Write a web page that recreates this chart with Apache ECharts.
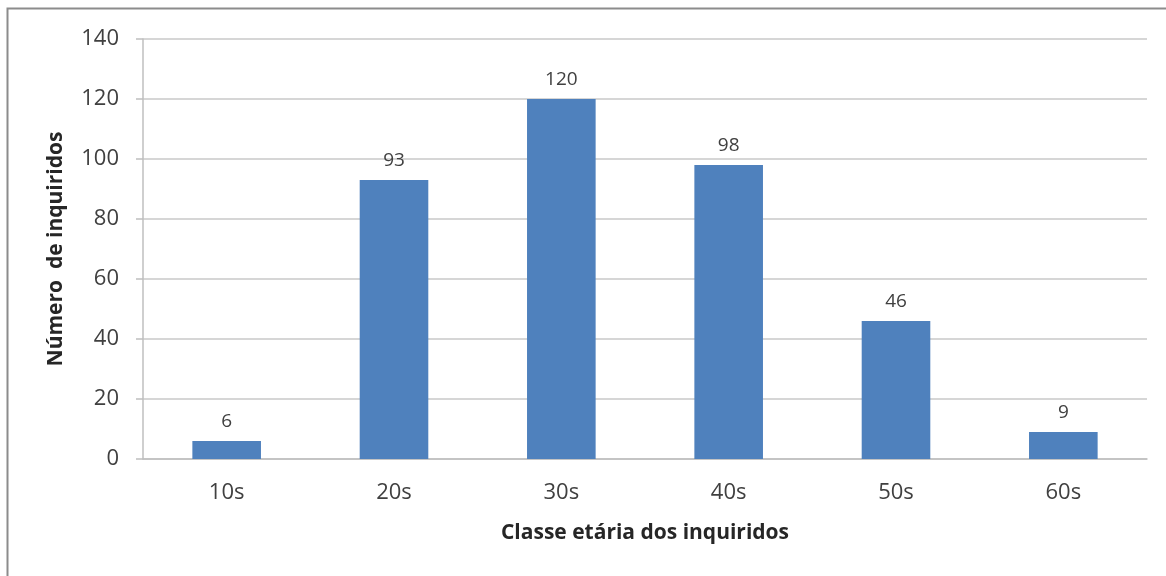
<!DOCTYPE html>
<html>
<head>
<meta charset="utf-8">
<script src="https://cdn.jsdelivr.net/npm/echarts@6/dist/echarts.min.js"></script>
<style>
    html,body{margin:0;padding:0;background:#fff;}
    #chart{width:1166px;height:576px;}
</style>
</head>
<body>
<div id="chart"></div>
<script>
    // 数据
    var categories = ['10s', '20s', '30s', '40s', '50s', '60s'];
    var values = [6, 93, 120, 98, 46, 9];
    var yTicks = [0, 20, 40, 60, 80, 100, 120, 140];

    var fontFamily = '"Open Sans", "Noto Sans", sans-serif';
    var textColor = '#404040';

    var myChart = echarts.init(document.getElementById('chart'), null, {renderer: 'canvas'});

    var option = {
        backgroundColor: '#fff',
        animation: false,
        graphic: [
            //外框
            {
                type: 'polyline',
                shape: {points: [[7.5, 576], [7.5, 8.5], [1166, 8.5]]},
                style: {stroke: '#8c8c8c', lineWidth: 2, fill: null}
            }
        ],
        grid: {left: 143, right: 19, top: 39, bottom: 117},
        xAxis: {
            type: 'category',
            data: categories,
            name: 'Classe etária dos inquiridos',
            nameLocation: 'middle',
            nameGap: 64,
            nameTextStyle: {fontFamily: fontFamily, fontSize: 21, fontWeight: 'bold', color: '#262626'},
            axisLine: {lineStyle: {color: '#bfbfbf', width: 1.5}},
            axisTick: {show: false},
            axisLabel: {fontFamily: fontFamily, fontSize: 22, color: textColor, margin: 23}
        },
        yAxis: {
            type: 'value',
            min: yTicks[0],
            max: yTicks[yTicks.length - 1],
            interval: yTicks[1] - yTicks[0],
            name: 'Número  de inquiridos',
            nameLocation: 'middle',
            nameGap: 76,
            nameTextStyle: {fontFamily: fontFamily, fontSize: 21, fontWeight: 'bold', color: '#262626'},
            axisLine: {show: true, lineStyle: {color: '#bfbfbf', width: 1.5}},
            axisTick: {show: true, length: 7, lineStyle: {color: '#bfbfbf', width: 1.5}},
            axisLabel: {fontFamily: fontFamily, fontSize: 22, color: textColor, margin: 24},
            splitLine: {lineStyle: {color: '#c8c8c8', width: 1.5}}
        },
        series: [{
            type: 'bar',
            data: values,
            barWidth: '41%',
            itemStyle: {color: '#4f81bd'},
            label: {
                show: true,
                position: 'top',
                distance: 10,
                fontFamily: fontFamily,
                fontSize: 19,
                color: textColor
            }
        }]
    };

    myChart.setOption(option);
</script>
</body>
</html>
